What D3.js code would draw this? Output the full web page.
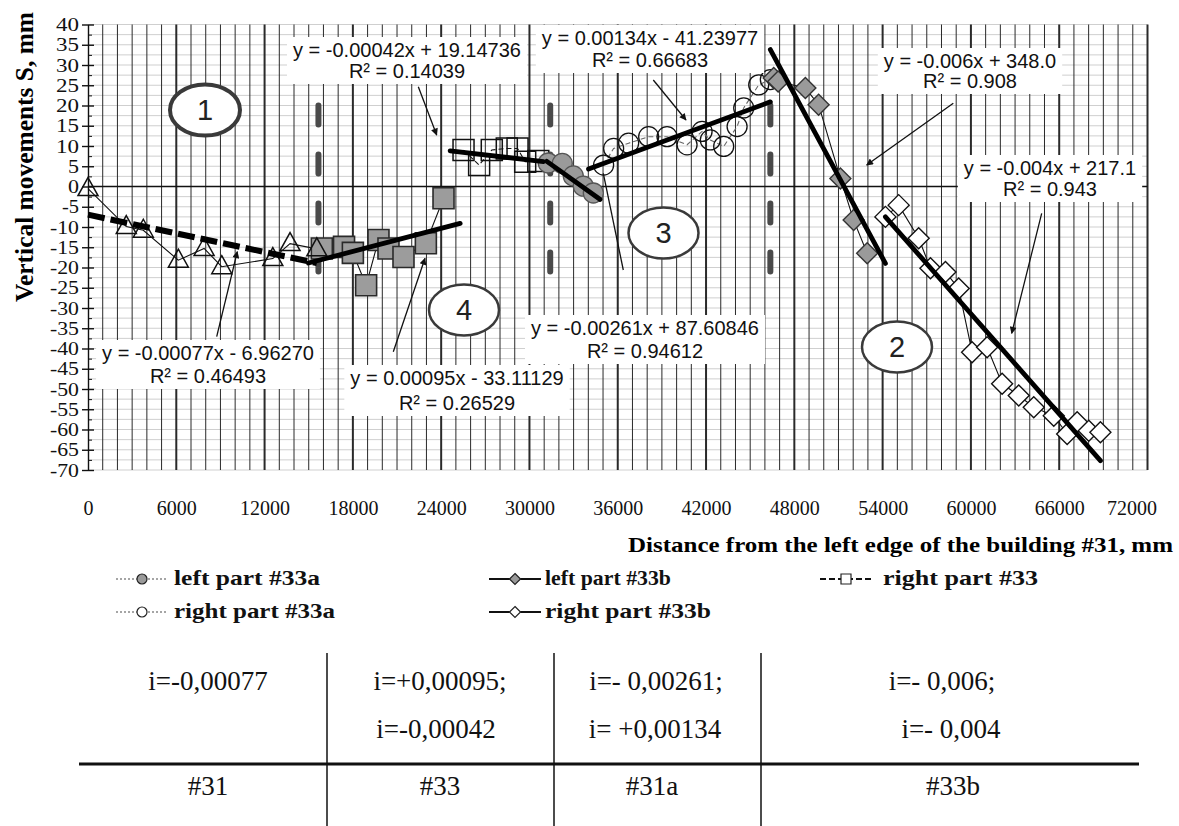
<!DOCTYPE html>
<html><head><meta charset="utf-8">
<script src="https://cdn.jsdelivr.net/npm/d3@7/dist/d3.min.js"></script>
<style>body{margin:0;background:#fff;} svg{display:block;}</style>
</head><body>
<svg id="c" width="1179" height="826"></svg>
<script>
// ---------------- DATA ----------------
const xTickValues = [0,6000,12000,18000,24000,30000,36000,42000,48000,54000,60000,66000,72000];
const yTickValues = [40,35,30,25,20,15,10,5,0,-5,-10,-15,-20,-25,-30,-35,-40,-45,-50,-55,-60,-65,-70];

// building #31 (open triangles)
const b31X = [0,2600,3760,6140,7890,9090,12560,13730,15550];
const b31Y = [-0.5,-9.9,-10.8,-18.2,-15.3,-19.8,-17.8,-14.1,-15.4];
// #33 left (grey squares)
const s33LX = [15890,17400,18000,18900,19740,20420,21440,22960,24160];
const s33LY = [-15.3,-14.9,-16.4,-24.4,-13.2,-15.3,-17.4,-14.0,-2.9];
// right part #33 (open squares)
const s33RX = [25520,26580,27440,28460,29190,29710,30600];
const s33RY = [9.0,5.3,9.0,9.4,9.4,6.1,6.3];
// left part #33a (grey circles)
const c33aLX = [31275,32230,32980,33660,34340];
const c33aLY = [5.8,5.7,2.6,0.1,-1.6];
// right part #33a (open circles)
const c33aRX = [35040,35720,36740,38100,39350,40710,41730,42290,43200,44110,44560,45580,46370];
const c33aRY = [5.3,9.4,10.7,12.3,12.3,10.3,13.6,11.5,9.9,14.8,19.4,25.1,26.4];
// left part #33b (grey diamonds)
const d33bLX = [46600,46900,48750,49650,51130,52030,52950];
const d33bLY = [26.8,25.9,24.3,20.2,2.0,-8.3,-16.5];
// right part #33b (open diamonds)
const d33bRX = [54190,55090,56450,57250,58270,59170,60080,61100,62120,63250,64270,65630,66540,67220,68010,68800];
const d33bRY = [-7.5,-4.6,-12.8,-20.2,-21.1,-25.2,-40.9,-39.7,-48.7,-51.6,-54.5,-56.6,-61.1,-58.2,-60.3,-60.7];

// trend lines (end points)
const trendX0 = [0,14980,24610,31180,34015,46370,54190];
const trendY0 = [-6.96,-18.9,8.8,6.2,4.3,33.8,-7.5];
const trendX1 = [15550,25290,30960,34810,46370,54190,68800];
const trendY1 = [-18.9,-9.1,6.15,-3.2,20.9,-19.0,-67.7];

// building boundaries
const boundaryX = [15660,31410,46370];

// equation labels
const eqLine1 = ["y = -0.00042x + 19.14736","y = 0.00134x - 41.23977","y = -0.006x + 348.0","y = -0.004x + 217.1","y = -0.00261x + 87.60846","y = 0.00095x - 33.11129","y = -0.00077x - 6.96270"];
const eqLine2 = ["R² = 0.14039","R² = 0.66683","R² = 0.908","R² = 0.943","R² = 0.94612","R² = 0.26529","R² = 0.46493"];

const zoneLabels = ["1","4","3","2"];

const legendLabels = ["left part #33a","left part #33b","right part #33","right part #33a","right part #33b"];

const tableRow1 = ["i=-0,00077","i=+0,00095;","i=- 0,00261;","i=- 0,006;"];
const tableRow2 = ["","i=-0,00042","i= +0,00134","i=- 0,004"];
const tableRow3 = ["#31","#33","#31a","#33b"];

// ---------------- CHART ----------------
const svg = d3.select('#c');
const x = d3.scaleLinear().domain([0,72000]).range([88,1147.5]);
const y = d3.scaleLinear().domain([-70,40]).range([470,24.5]);
const SERIF = "'Liberation Serif','Times New Roman',serif";
const SANS = "'Liberation Sans',Arial,sans-serif";

const defs = svg.append('defs');
defs.append('marker').attr('id','ah').attr('viewBox','0 0 10 10').attr('refX',9).attr('refY',5)
  .attr('markerWidth',10).attr('markerHeight',7).attr('markerUnits','userSpaceOnUse').attr('orient','auto')
  .append('path').attr('d','M0,0 L10,5 L0,10 Z').attr('fill','#111');

// grid
const grid = svg.append('g');
d3.range(-70,40.01,2.5).forEach(v=>{
  if (v===0) return;
  grid.append('line').attr('x1',x(0)).attr('x2',x(72000)).attr('y1',y(v)).attr('y2',y(v))
    .attr('stroke','#c9c9c9').attr('stroke-width',0.9);
});
d3.range(1000,72001,1000).forEach(v=>{
  grid.append('line').attr('x1',x(v)).attr('x2',x(v)).attr('y1',y(40)).attr('y2',y(-70))
    .attr('stroke','#2a2a2a').attr('stroke-width', v%6000===0?2:1);
});
// x axis line at zero
svg.append('line').attr('x1',x(0)).attr('x2',x(72000)).attr('y1',y(0)).attr('y2',y(0))
  .attr('stroke','#111').attr('stroke-width',1.4);

// y axis
const yAx = svg.append('g').attr('transform',`translate(${x(0)},0)`)
  .call(d3.axisLeft(y).tickValues(yTickValues).tickSizeInner(6).tickSizeOuter(0).tickPadding(3).tickFormat(d=>String(d)));
yAx.select('.domain').attr('stroke','#111').attr('stroke-width',1.4);
yAx.selectAll('.tick line').attr('x1',6).attr('stroke','#111').attr('stroke-width',1.4);
yAx.selectAll('.tick text').attr('font-family',SERIF).attr('font-size',19).attr('fill','#111')
  .attr('textLength',d=>String(d).length===1?11:(String(d).length===2? (d<0?17:23):29))
  .attr('lengthAdjust','spacingAndGlyphs');
const yMinor = svg.append('g').attr('transform',`translate(${x(0)},0)`)
  .call(d3.axisLeft(y).tickValues(d3.range(-67.5,40,5)).tickSize(-4).tickFormat(''));
yMinor.select('.domain').remove();
yMinor.selectAll('.tick line').attr('stroke','#111');

// x axis labels
const xAx = svg.append('g').attr('transform',`translate(0,${y(-70)})`)
  .call(d3.axisBottom(x).tickValues(xTickValues).tickSize(0).tickPadding(31).tickFormat(d=>String(d)));
xAx.select('.domain').remove();
xAx.selectAll('.tick text').attr('font-family',SERIF).attr('font-size',20).attr('fill','#111');
xAx.selectAll('.tick text').filter(d=>d===72000).attr('x',-16);

// axis titles
svg.append('text').attr('transform','translate(33,157) rotate(-90)').attr('text-anchor','middle')
  .attr('font-family',SERIF).attr('font-weight','bold').attr('font-size',25)
  .attr('textLength',290).attr('lengthAdjust','spacingAndGlyphs')
  .text('Vertical movements S, mm');
svg.append('text').attr('x',628).attr('y',552)
  .attr('font-family',SERIF).attr('font-weight','bold').attr('font-size',21)
  .attr('textLength',545).attr('lengthAdjust','spacingAndGlyphs')
  .text('Distance from the left edge of the building #31, mm');

// building boundaries
boundaryX.forEach(v=>{
  svg.append('line').attr('x1',x(v)).attr('x2',x(v)).attr('y1',y(20)).attr('y2',y(-21.5))
    .attr('stroke','#4a4a4a').attr('stroke-width',6).attr('stroke-linecap','round')
    .attr('stroke-dasharray','19,30');
});

// series
const zip = (xs,ys)=>xs.map((v,i)=>[v,ys[i]]);
const line = d3.line().x(d=>x(d[0])).y(d=>y(d[1]));
function series(xs,ys,stroke,dash,width){
  svg.append('path').datum(zip(xs,ys)).attr('d',line).attr('fill','none')
    .attr('stroke',stroke).attr('stroke-width',width||1.1).attr('stroke-dasharray',dash||null);
}
series(b31X,b31Y,'#111');
series(s33LX,s33LY,'#111');
series(s33RX,s33RY,'#111','5,3');
series(c33aLX,c33aLY,'#777','2,2');
series(c33aRX,c33aRY,'#666','5,3');
series(d33bLX,d33bLY,'#111');
series(d33bRX,d33bRY,'#111');

function markers(xs,ys,pathStr,fill,stroke,sw){
  svg.append('g').selectAll('path').data(zip(xs,ys)).join('path')
    .attr('transform',d=>`translate(${x(d[0])},${y(d[1])})`).attr('d',pathStr)
    .attr('fill',fill).attr('stroke',stroke).attr('stroke-width',sw||1.4);
}
const TRI='M0,-11L10,7L-10,7Z';
const SQ='M-10.5,-10.5H10.5V10.5H-10.5Z';
const DIA='M0,-10.5L10.5,0L0,10.5L-10.5,0Z';
const CIR=d3.symbol(d3.symbolCircle, Math.PI*10*10)();
markers(s33LX,s33LY,SQ,'#9c9c9c','#2a2a2a',1.6);
markers(b31X,b31Y,TRI,'none','#111',1.5);
markers(s33RX,s33RY,SQ,'none','#111',1.5);
markers(c33aLX,c33aLY,CIR,'#9a9a9a','#555',1.3);
markers(c33aRX,c33aRY,CIR,'none','#111',1.3);
markers(d33bLX,d33bLY,DIA,'#9a9a9a','#333',1.4);
markers(d33bRX,d33bRY,DIA,'#fff','#111',1.4);

// trend lines
trendX0.forEach((v,i)=>{
  svg.append('line').attr('x1',x(v)).attr('y1',y(trendY0[i])).attr('x2',x(trendX1[i])).attr('y2',y(trendY1[i]))
    .attr('stroke','#000').attr('stroke-width', i===0?6:4.8)
    .attr('stroke-dasharray', i===0?'17,6':null).attr('stroke-linecap', i===0?'butt':'round');
});

// equation labels (annotation layout, px)
const eqPos = [[407,57,78],[650,45,67],[970,68,88],[1050,175,196],[645,335,358],[457,385,410],[208,360,383]];
eqLine1.forEach((t,i)=>{
  const g = svg.append('g');
  const bg = g.append('rect').attr('fill','#fff');
  const t1 = g.append('text').attr('x',eqPos[i][0]).attr('y',eqPos[i][1]).attr('text-anchor','middle')
    .attr('font-family',SANS).attr('font-size',20).attr('fill','#111').text(t);
  const t2 = g.append('text').attr('x',eqPos[i][0]).attr('y',eqPos[i][2]).attr('text-anchor','middle')
    .attr('font-family',SANS).attr('font-size',20).attr('fill','#111').text(eqLine2[i]);
  const b1=t1.node().getBBox(), b2=t2.node().getBBox();
  const x0=Math.min(b1.x,b2.x)-6, x1=Math.max(b1.x+b1.width,b2.x+b2.width)+6;
  bg.attr('x',x0).attr('y',b1.y-2).attr('width',x1-x0).attr('height',b2.y+b2.height-b1.y+4);
});

// arrows (px)
const arrows = [[216.7,336.7,237.3,251.7,1],[393.3,351.7,425,258.3,1],[418.3,86.7,436.7,135,1],
  [653.3,80,686,120,1],[623.3,270,603.3,173.3,0],[953.3,103.3,866.7,165,1],[1041.7,213.3,1011.7,333.3,1]];
arrows.forEach(a=>{
  svg.append('line').attr('x1',a[0]).attr('y1',a[1]).attr('x2',a[2]).attr('y2',a[3])
    .attr('stroke','#111').attr('stroke-width',1.3).attr('marker-end',a[4]?'url(#ah)':null);
});

// zone ellipses (px)
const zonePos = [[205,110,4],[464,310,2.5],[663.5,233,2.5],[897,347,2.5]];
zoneLabels.forEach((t,i)=>{
  const p=zonePos[i];
  svg.append('ellipse').attr('cx',p[0]).attr('cy',p[1]).attr('rx',35).attr('ry',25.5)
    .attr('fill','#fff').attr('stroke','#3a3a3a').attr('stroke-width',p[2]);
  svg.append('text').attr('x',p[0]).attr('y',p[1]+10).attr('text-anchor','middle')
    .attr('font-family',SANS).attr('font-size',29).attr('fill','#222').text(t);
});

// legend
const legPos = [[116,579,174,146],[489,579,545,126],[820,579,883,155],[116,612,174,161],[489,612,545,166]];
const legStyle = [
  {dash:'2,2',stroke:'#888',mk:'c',fill:'#9a9a9a'},
  {dash:null,stroke:'#111',mk:'d',fill:'#9a9a9a'},
  {dash:'6,3',stroke:'#111',mk:'s',fill:'#fff'},
  {dash:'2,2',stroke:'#888',mk:'c',fill:'#fff'},
  {dash:null,stroke:'#111',mk:'d',fill:'#fff'}];
legendLabels.forEach((t,i)=>{
  const p=legPos[i], s=legStyle[i];
  svg.append('line').attr('x1',p[0]).attr('x2',p[0]+52).attr('y1',p[1]).attr('y2',p[1])
    .attr('stroke',s.stroke).attr('stroke-width',s.dash==='2,2'?1.5:2.2).attr('stroke-dasharray',s.dash);
  const cx=p[0]+26, cy=p[1];
  let d;
  if (s.mk==='c') d=d3.symbol(d3.symbolCircle,Math.PI*25)();
  else if (s.mk==='d') d='M0,-5.5L5.5,0L0,5.5L-5.5,0Z';
  else d='M-5,-5H5V5H-5Z';
  svg.append('path').attr('transform',`translate(${cx},${cy})`).attr('d',d)
    .attr('fill',s.fill).attr('stroke','#222').attr('stroke-width',1.2);
  svg.append('text').attr('x',p[2]).attr('y',p[1]+6).attr('font-family',SERIF).attr('font-weight','bold')
    .attr('font-size',21).attr('textLength',p[3]).attr('lengthAdjust','spacingAndGlyphs').attr('fill','#111').text(t);
});

// table
[327,554,761].forEach(xx=>{
  svg.append('line').attr('x1',xx).attr('x2',xx).attr('y1',653).attr('y2',826).attr('stroke','#111').attr('stroke-width',1.5);
});
svg.append('line').attr('x1',79).attr('x2',1139).attr('y1',764).attr('y2',764).attr('stroke','#111').attr('stroke-width',2.8);
const colCx1=[208,440,656,942], colCx2=[0,436,655,951], colCx3=[208,440,652,953];
function cell(t,cx,yy){
  if(!t) return;
  svg.append('text').attr('x',cx).attr('y',yy).attr('text-anchor','middle').attr('font-family',SERIF).attr('font-size',27)
    .attr('fill','#111').text(t);
}
tableRow1.forEach((t,i)=>cell(t,colCx1[i],690));
tableRow2.forEach((t,i)=>cell(t,colCx2[i],738));
tableRow3.forEach((t,i)=>cell(t,colCx3[i],795));
</script>
</body></html>
